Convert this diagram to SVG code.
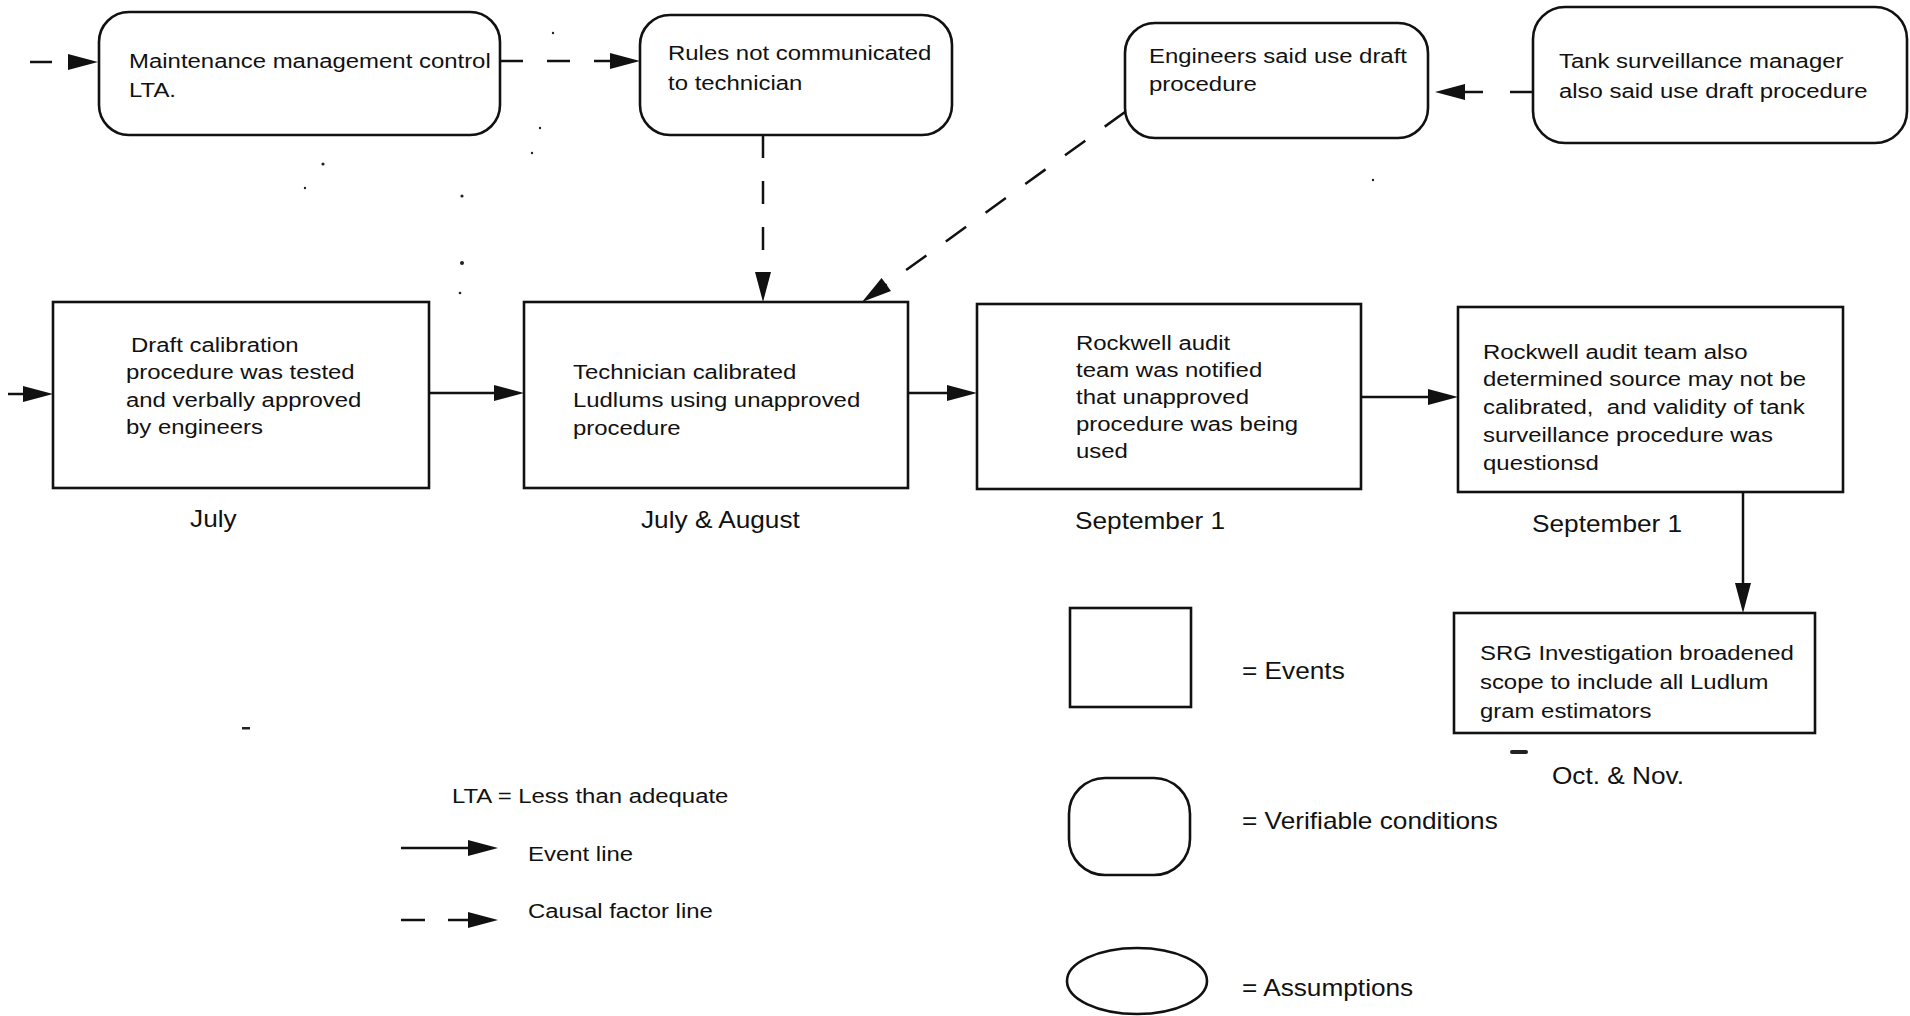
<svg xmlns="http://www.w3.org/2000/svg" width="1910" height="1016" viewBox="0 0 1910 1016">
  <style>
    .bg { fill: #ffffff; }
    .ev { fill: none; stroke: #111; stroke-width: 2.6; }
    .cond { fill: none; stroke: #111; stroke-width: 2.6; }
    .t { font-family: "Liberation Sans", Arial, sans-serif; font-size: 21px; fill: #111; }
    .d { font-family: "Liberation Sans", Arial, sans-serif; font-size: 23px; fill: #111; }
    .solid { fill: none; stroke: #111; stroke-width: 2.5; marker-end: url(#ah); }
    .dash { fill: none; stroke: #111; stroke-width: 2.5; marker-end: url(#ah); }
    .speck { fill: #222; }
  </style>
  <defs>
    <!-- filled arrowhead; the line stops 8px past the base, tip lies 22px further on -->
    <marker id="ah" markerUnits="userSpaceOnUse" markerWidth="32" markerHeight="18" refX="8" refY="8" orient="auto" overflow="visible">
      <path d="M0,0 L30,8 L0,16 Z" fill="#111"/>
    </marker>
  </defs>

  <rect class="bg" x="0" y="0" width="1910" height="1016"/>

  <!-- conditions (rounded boxes) -->
  <g id="maintenance-lta">
    <rect class="cond" x="99" y="12" width="401" height="123" rx="30" ry="30"/>
    <g transform="scale(1.14 1)">
      <text class="t" x="113.2" y="68">Maintenance management control</text>
      <text class="t" x="113.2" y="97">LTA.</text>
    </g>
  </g>
  <g id="rules-not-communicated">
    <rect class="cond" x="640" y="15" width="312" height="120" rx="30" ry="30"/>
    <g transform="scale(1.14 1)">
      <text class="t" x="586" y="60">Rules not communicated</text>
      <text class="t" x="586" y="90">to technician</text>
    </g>
  </g>
  <g id="engineers-said">
    <rect class="cond" x="1125" y="23" width="303" height="115" rx="30" ry="30"/>
    <g transform="scale(1.14 1)">
      <text class="t" x="1007.9" y="63">Engineers said use draft</text>
      <text class="t" x="1007.9" y="91">procedure</text>
    </g>
  </g>
  <g id="tank-manager-said">
    <rect class="cond" x="1533" y="7" width="374" height="136" rx="32" ry="32"/>
    <g transform="scale(1.14 1)">
      <text class="t" x="1367.5" y="68">Tank surveillance manager</text>
      <text class="t" x="1367.5" y="98">also said use draft procedure</text>
    </g>
  </g>

  <!-- events (square boxes) -->
  <g id="draft-procedure-tested">
    <rect class="ev" x="53" y="302" width="376" height="186"/>
    <g transform="scale(1.14 1)">
      <text class="t" x="114.9" y="352">Draft calibration</text>
      <text class="t" x="110.5" y="379">procedure was tested</text>
      <text class="t" x="110.5" y="407">and verbally approved</text>
      <text class="t" x="110.5" y="434">by engineers</text>
    </g>
    <g transform="scale(1.14 1)">
      <text class="d" x="166.7" y="527">July</text>
    </g>
  </g>
  <g id="technician-calibrated">
    <rect class="ev" x="524" y="302" width="384" height="186"/>
    <g transform="scale(1.14 1)">
      <text class="t" x="502.6" y="379">Technician calibrated</text>
      <text class="t" x="502.6" y="407">Ludlums using unapproved</text>
      <text class="t" x="502.6" y="435">procedure</text>
    </g>
    <g transform="scale(1.14 1)">
      <text class="d" x="562.3" y="528">July &amp; August</text>
    </g>
  </g>
  <g id="audit-team-notified">
    <rect class="ev" x="977" y="304" width="384" height="185"/>
    <g transform="scale(1.14 1)">
      <text class="t" x="943.9" y="350">Rockwell audit</text>
      <text class="t" x="943.9" y="377">team was notified</text>
      <text class="t" x="943.9" y="404">that unapproved</text>
      <text class="t" x="943.9" y="431">procedure was being</text>
      <text class="t" x="943.9" y="458">used</text>
    </g>
    <g transform="scale(1.14 1)">
      <text class="d" x="943" y="529">September 1</text>
    </g>
  </g>
  <g id="audit-team-determined">
    <rect class="ev" x="1458" y="307" width="385" height="185"/>
    <g transform="scale(1.14 1)">
      <text class="t" x="1300.9" y="359">Rockwell audit team also</text>
      <text class="t" x="1300.9" y="386">determined source may not be</text>
      <text class="t" x="1300.9" y="414" xml:space="preserve">calibrated,  and validity of tank</text>
      <text class="t" x="1300.9" y="442">surveillance procedure was</text>
      <text class="t" x="1300.9" y="470">questionsd</text>
    </g>
    <g transform="scale(1.14 1)">
      <text class="d" x="1343.9" y="532">September 1</text>
    </g>
  </g>
  <g id="srg-scope-broadened">
    <rect class="ev" x="1454" y="613" width="361" height="120"/>
    <g transform="scale(1.14 1)">
      <text class="t" x="1298.2" y="660">SRG Investigation broadened</text>
      <text class="t" x="1298.2" y="689">scope to include all Ludlum</text>
      <text class="t" x="1298.2" y="718">gram estimators</text>
    </g>
    <g transform="scale(1.14 1)">
      <text class="d" x="1361.4" y="784">Oct. &amp; Nov.</text>
    </g>
  </g>

  <!-- connectors -->
  <g id="connectors">
    <!-- causal factor lines (dashed) -->
    <line class="dash" x1="30" y1="62" x2="76" y2="62" stroke-dasharray="22 18"/>
    <line class="dash" x1="500" y1="61" x2="618" y2="61" stroke-dasharray="23 24"/>
    <line class="dash" x1="763" y1="135" x2="763" y2="280" stroke-dasharray="23 23"/>
    <line class="dash" x1="1125" y1="112" x2="879.8" y2="289.1" stroke-dasharray="25 24"/>
    <line class="dash" x1="1532" y1="92" x2="1457" y2="92" stroke-dasharray="22 27"/>
    <!-- event lines (solid) -->
    <line class="solid" x1="8" y1="394" x2="31" y2="394"/>
    <line class="solid" x1="429" y1="393" x2="502" y2="393"/>
    <line class="solid" x1="908" y1="393" x2="955" y2="393"/>
    <line class="solid" x1="1361" y1="397" x2="1436" y2="397"/>
    <line class="solid" x1="1743" y1="492" x2="1743" y2="591"/>
  </g>

  <!-- key -->
  <g id="legend-lines">
    <g transform="scale(1.14 1)">
      <text class="t" x="396.5" y="803">LTA = Less than adequate</text>
      <text class="t" x="463.2" y="861">Event line</text>
      <text class="t" x="463.2" y="918">Causal factor line</text>
    </g>
    <line class="solid" x1="401" y1="848" x2="476" y2="848"/>
    <line class="dash" x1="401" y1="920" x2="476" y2="920" stroke-dasharray="24 23"/>
  </g>
  <g id="legend-events">
    <rect class="ev" x="1070" y="608" width="121" height="99"/>
    <g transform="scale(1.14 1)">
      <text class="d" x="1089.5" y="679">= Events</text>
    </g>
  </g>
  <g id="legend-conditions">
    <rect class="cond" x="1069" y="778" width="121" height="97" rx="36" ry="36"/>
    <g transform="scale(1.14 1)">
      <text class="d" x="1089.5" y="829">= Verifiable conditions</text>
    </g>
  </g>
  <g id="legend-assumptions">
    <ellipse class="cond" cx="1137" cy="981" rx="70" ry="33"/>
    <g transform="scale(1.14 1)">
      <text class="d" x="1089.5" y="996">= Assumptions</text>
    </g>
  </g>

  <!-- stray marks on the sheet -->
  <g id="specks">
    <circle class="speck" cx="323" cy="164" r="1.6"/>
    <circle class="speck" cx="462" cy="196" r="1.6"/>
    <circle class="speck" cx="462" cy="263" r="2"/>
    <circle class="speck" cx="460" cy="293" r="1.3"/>
    <circle class="speck" cx="305" cy="188" r="1.2"/>
    <circle class="speck" cx="540" cy="128" r="1.2"/>
    <circle class="speck" cx="532" cy="153" r="1.2"/>
    <circle class="speck" cx="553" cy="33" r="1.2"/>
    <circle class="speck" cx="1373" cy="180" r="1.2"/>
    <rect class="speck" x="1510" y="750" width="18" height="4" rx="2"/>
    <rect class="speck" x="242" y="727" width="8" height="2.5"/>
  </g>
</svg>
